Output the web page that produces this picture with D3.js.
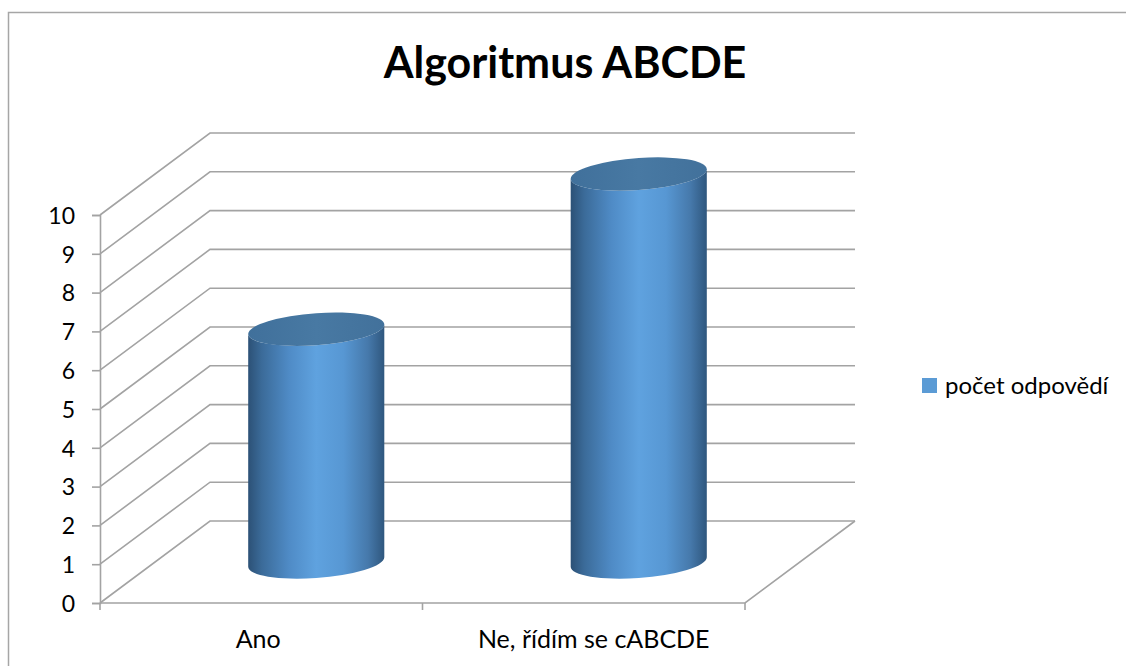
<!DOCTYPE html>
<html>
<head>
<meta charset="utf-8">
<script src="https://cdn.jsdelivr.net/npm/d3@7"></script>
<style>
  html, body { margin: 0; padding: 0; background: #fff; }
  svg { display: block; }
  text { font-family: Lato, "Noto Sans", "DejaVu Sans", sans-serif; fill: #000; }
</style>
</head>
<body>
<svg id="chart" width="1126" height="666"></svg>
<script>
// Survey answers
const categories = ["Ano", "Ne, řídím se cABCDE"];
const values = [6, 10];
const seriesName = "počet odpovědí";
const yTicks = [0, 1, 2, 3, 4, 5, 6, 7, 8, 9, 10];
const chartTitle = "Algoritmus ABCDE";

(function () {
const W = 1126, H = 666;
const svg = d3.select("#chart");

// plot frame (front plane) and 3D depth offset
const plotLeft = 100, plotRight = 745, plotBottom = 603, plotTop = 215;
const depthX = 110, depthY = -82;
const gridColor = "#a3a3a3";

const x = d3.scaleBand().domain(categories).range([plotLeft, plotRight]);
const y = d3.scaleLinear().domain([0, 10]).range([plotBottom, plotTop]);

// outer chart border
svg.append("rect")
  .attr("x", 8.5).attr("y", 12.5)
  .attr("width", W + 20).attr("height", H + 20)
  .attr("fill", "none").attr("stroke", "#a6a6a6").attr("stroke-width", 1.5);

// title
svg.append("text")
  .attr("x", 565).attr("y", 78)
  .attr("text-anchor", "middle")
  .style("font-size", "43px").style("font-weight", "bold")
  .text(chartTitle);

// walls: side-wall diagonals + back-wall gridlines
const walls = svg.append("g").attr("fill", "none").attr("stroke", gridColor).attr("stroke-width", 1.6);
walls.selectAll("path.grid")
  .data(yTicks)
  .join("path")
  .attr("class", "grid")
  .attr("d", v => `M${plotLeft},${y(v)} L${plotLeft + depthX},${y(v) + depthY} L${plotRight + depthX},${y(v) + depthY}`);

// floor: right diagonal and front edge
walls.append("path")
  .attr("d", `M${plotLeft},${plotBottom} L${plotRight},${plotBottom} L${plotRight + depthX},${plotBottom + depthY}`);

// y axis
const yAxis = d3.axisLeft(y).tickValues(yTicks).tickSize(8).tickPadding(17).tickFormat(d3.format("d"));
const ya = svg.append("g").attr("transform", `translate(${plotLeft},0)`).call(yAxis);
ya.select(".domain").attr("stroke", gridColor).attr("stroke-width", 1.6);
ya.selectAll(".tick line").attr("stroke", gridColor).attr("stroke-width", 1.6);
ya.selectAll(".tick text").style("font-size", "23px").attr("fill", "#000")
  .style("font-family", "Lato, 'Noto Sans', sans-serif").attr("dy", "0.36em");

// x axis tick marks at category boundaries
const bounds = [plotLeft].concat(categories.map(c => x(c) + x.bandwidth()));
svg.append("g").selectAll("line")
  .data(bounds)
  .join("line")
  .attr("x1", d => d).attr("x2", d => d)
  .attr("y1", plotBottom).attr("y2", plotBottom + 7)
  .attr("stroke", gridColor).attr("stroke-width", 1.6);

// x labels
svg.append("g").selectAll("text")
  .data(categories)
  .join("text")
  .attr("x", (c, i) => x(c) + x.bandwidth() / 2 + (i === 0 ? -3 : 10))
  .attr("y", 648)
  .attr("text-anchor", "middle")
  .style("font-size", "25px")
  .text(c => c);

// cylinder shading
const defs = svg.append("defs");
const grad = defs.append("linearGradient").attr("id", "cylSide")
  .attr("x1", "0%").attr("x2", "100%").attr("y1", "0%").attr("y2", "0%");
[[0, "#2c5176"], [0.1, "#3b6b99"], [0.3, "#4f8bc6"], [0.5, "#5fa2df"], [0.7, "#5797d3"], [0.88, "#4679ab"], [1, "#2f577e"]]
  .forEach(([o, c]) => grad.append("stop").attr("offset", o).attr("stop-color", c));
const topGrad = defs.append("linearGradient").attr("id", "cylTop")
  .attr("x1", "0%").attr("x2", "100%").attr("y1", "0%").attr("y2", "0%");
[[0, "#40709b"], [0.5, "#4879a3"], [1, "#42719b"]]
  .forEach(([o, c]) => topGrad.append("stop").attr("offset", o).attr("stop-color", c));

// cylinders at mid depth
const rx = x.bandwidth() * 0.211, ry = 16, tilt = -4;
const bars = svg.append("g").selectAll("g.bar")
  .data(categories.map((c, i) => ({ c, v: values[i] })))
  .join("g")
  .attr("class", "bar")
  .attr("transform", d => `translate(${x(d.c) + x.bandwidth() / 2 + depthX / 2},0) skewY(${tilt})`);

bars.append("path")
  .attr("fill", "url(#cylSide)")
  .attr("d", d => {
    const yt = y(d.v) + depthY / 2, yb = y(0) + depthY / 2;
    return `M${-rx},${yt} L${-rx},${yb} A${rx},${ry} 0 0 0 ${rx},${yb} L${rx},${yt} A${rx},${ry} 0 0 1 ${-rx},${yt} Z`;
  });

bars.append("ellipse")
  .attr("cx", 0)
  .attr("cy", d => y(d.v) + depthY / 2)
  .attr("rx", rx).attr("ry", ry)
  .attr("fill", "url(#cylTop)");

// legend
const lg = svg.append("g").attr("transform", "translate(922,378)");
lg.append("rect").attr("width", 15).attr("height", 15).attr("fill", "#5b9bd5");
lg.append("text").attr("x", 23).attr("y", 15.5).style("font-size", "24px").text(seriesName);
})();
</script>
</body>
</html>
